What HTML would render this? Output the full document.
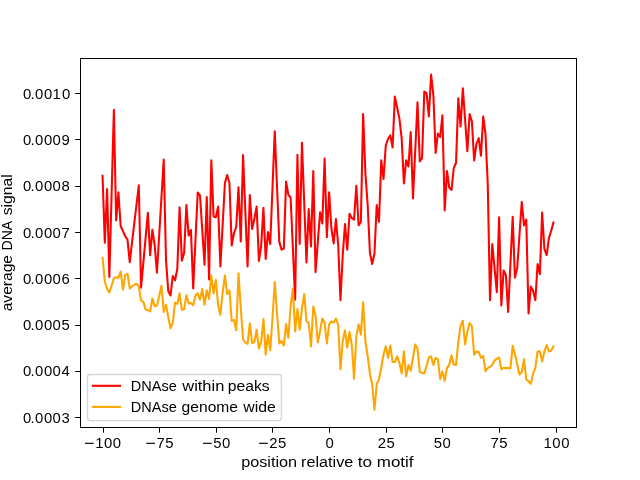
<!DOCTYPE html>
<html><head><meta charset="utf-8"><title>plot</title>
<style>
html,body{margin:0;padding:0;background:#fff;}
body{width:640px;height:480px;overflow:hidden;}
svg{display:block;}
text{font-family:"Liberation Sans",sans-serif;font-size:14.7px;fill:#000;}
</style></head><body>
<svg width="640" height="480" viewBox="0 0 640 480">
<rect x="0" y="0" width="640" height="480" fill="#fff"/>
<g id="all" style="opacity:0.999">
<defs><clipPath id="ax"><rect x="80" y="57.6" width="496" height="369.6"/></clipPath></defs>
<g clip-path="url(#ax)" fill="none" stroke-width="2.08" stroke-linejoin="round" stroke-linecap="square">
<polyline stroke="#ff0000" points="102.55,175.80 104.82,242.70 107.08,189.10 109.35,276.90 111.61,193.40 113.88,109.80 116.15,220.30 118.41,192.30 120.68,226.30 122.94,231.00 125.21,236.40 127.47,239.40 129.74,262.20 132.01,242.50 134.27,223.40 136.54,204.40 138.80,185.40 141.07,287.70 143.34,262.80 145.60,237.80 147.87,212.90 150.13,255.10 152.40,229.80 154.67,245.00 156.93,272.70 159.20,235.00 161.46,197.20 163.73,159.50 166.00,260.00 168.26,291.00 170.53,295.40 172.79,276.00 175.06,280.30 177.32,268.75 179.59,207.30 181.86,260.60 184.12,253.00 186.39,205.00 188.65,235.50 190.92,230.00 193.19,288.40 195.45,240.40 197.72,192.50 199.98,195.50 202.25,230.00 204.52,264.60 206.78,197.10 209.05,279.40 211.31,160.40 213.58,216.50 215.84,217.20 218.11,206.60 220.38,266.50 222.64,225.00 224.91,183.30 227.17,175.00 229.44,183.00 231.71,245.50 233.97,233.00 236.24,227.00 238.50,187.30 240.77,241.50 243.04,155.00 245.30,210.70 247.57,266.50 249.83,195.00 252.10,229.00 254.37,218.75 256.63,206.60 258.90,260.90 261.16,246.00 263.43,207.90 265.69,259.00 267.96,232.00 270.23,244.00 272.49,187.70 274.76,131.30 277.02,186.60 279.29,241.90 281.56,249.60 283.82,248.80 286.09,181.60 288.35,194.80 290.62,197.50 292.89,248.50 295.15,299.60 297.42,154.70 299.68,244.00 301.95,142.90 304.22,202.70 306.48,262.50 308.75,209.10 311.01,246.50 313.28,171.00 315.54,272.10 317.81,242.20 320.08,212.30 322.34,223.40 324.61,158.50 326.87,237.10 329.14,192.30 331.41,228.50 333.67,243.40 335.94,219.10 338.20,245.00 340.47,300.30 342.74,255.00 345.00,224.10 347.27,249.60 349.53,213.80 351.80,218.10 354.06,219.60 356.33,185.80 358.60,225.30 360.86,222.00 363.13,114.10 365.39,173.00 367.66,205.00 369.93,253.00 372.19,264.00 374.46,253.50 376.72,205.00 378.99,221.80 381.26,160.40 383.52,179.00 385.79,145.30 388.05,139.00 390.32,135.40 392.59,147.50 394.85,96.60 397.12,107.50 399.38,118.40 401.65,138.10 403.91,183.40 406.18,160.40 408.45,166.50 410.71,132.00 412.98,198.40 415.24,150.40 417.51,102.30 419.78,161.50 422.04,158.10 424.31,91.60 426.57,93.10 428.84,116.50 431.11,74.50 433.37,95.00 435.64,153.00 437.90,133.50 440.17,136.80 442.44,115.40 444.70,210.50 446.97,171.00 449.23,187.50 451.50,190.00 453.76,168.00 456.03,163.00 458.30,98.30 460.56,126.50 462.83,88.30 465.09,119.80 467.36,151.30 469.63,114.00 471.89,121.30 474.16,160.50 476.42,144.00 478.69,138.10 480.96,155.60 483.22,116.60 485.49,134.00 487.75,184.00 490.02,300.30 492.28,244.10 494.55,268.00 496.82,292.10 499.08,217.30 501.35,305.50 503.61,270.50 505.88,275.00 508.15,312.00 510.41,264.20 512.68,216.90 514.94,277.60 517.21,268.00 519.48,235.00 521.74,202.10 524.01,225.40 526.27,219.70 528.54,313.50 530.81,286.60 533.07,290.80 535.34,300.30 537.60,264.10 539.87,274.10 542.13,212.60 544.40,249.00 546.67,255.10 548.93,238.00 551.20,230.60 553.46,222.50"/>
<polyline stroke="#ffa500" points="102.55,257.90 104.82,281.50 107.08,289.00 109.35,292.50 111.61,285.60 113.88,278.10 116.15,277.25 118.41,277.90 120.68,271.60 122.94,289.60 125.21,275.00 127.47,273.50 129.74,288.40 132.01,286.25 134.27,284.75 136.54,283.75 138.80,286.25 141.07,300.60 143.34,301.90 145.60,309.40 147.87,310.00 150.13,311.50 152.40,298.50 154.67,306.25 156.93,305.60 159.20,296.25 161.46,285.75 163.73,312.00 166.00,304.75 168.26,317.00 170.53,328.40 172.79,323.00 175.06,302.50 177.32,304.00 179.59,293.30 181.86,309.80 184.12,309.20 186.39,295.40 188.65,303.40 190.92,303.00 193.19,305.30 195.45,295.60 197.72,293.30 199.98,299.60 202.25,289.10 204.52,304.60 206.78,290.40 209.05,299.00 211.31,275.40 213.58,293.40 215.84,279.80 218.11,305.00 220.38,315.00 222.64,292.50 224.91,275.40 227.17,294.00 229.44,290.40 231.71,321.00 233.97,319.80 236.24,330.30 238.50,273.30 240.77,308.00 243.04,339.00 245.30,342.50 247.57,344.00 249.83,323.30 252.10,343.00 254.37,342.00 256.63,329.80 258.90,348.40 261.16,342.00 263.43,319.10 265.69,354.60 267.96,334.80 270.23,350.30 272.49,318.00 274.76,282.00 277.02,313.00 279.29,343.40 281.56,341.00 283.82,345.50 286.09,324.10 288.35,337.80 290.62,306.00 292.89,288.50 295.15,331.50 297.42,309.10 299.68,329.60 301.95,309.00 304.22,294.10 306.48,321.25 308.75,323.10 311.01,346.50 313.28,306.60 315.54,315.60 317.81,342.50 320.08,331.00 322.34,318.50 324.61,323.00 326.87,343.40 329.14,324.40 331.41,321.40 333.67,322.50 335.94,318.50 338.20,325.00 340.47,369.30 342.74,341.00 345.00,330.40 347.27,347.50 349.53,332.00 351.80,345.00 354.06,378.80 356.33,336.00 358.60,324.50 360.86,334.60 363.13,302.30 365.39,341.50 367.66,356.00 369.93,373.75 372.19,384.50 374.46,409.60 376.72,383.75 378.99,379.50 381.26,367.50 383.52,354.50 385.79,346.40 388.05,357.80 390.32,345.40 392.59,361.90 394.85,362.00 397.12,356.40 399.38,362.50 401.65,373.40 403.91,351.30 406.18,376.50 408.45,365.00 410.71,370.90 412.98,357.50 415.24,344.50 417.51,348.75 419.78,371.90 422.04,373.00 424.31,373.40 426.57,366.00 428.84,357.50 431.11,356.40 433.37,365.00 435.64,357.90 437.90,359.40 440.17,379.00 442.44,371.60 444.70,380.90 446.97,368.00 449.23,365.00 451.50,355.40 453.76,364.50 456.03,365.00 458.30,342.00 460.56,325.60 462.83,320.80 465.09,344.40 467.36,332.00 469.63,323.10 471.89,326.25 474.16,354.60 476.42,351.30 478.69,351.90 480.96,357.80 483.22,356.20 485.49,371.20 487.75,368.10 490.02,366.60 492.28,365.00 494.55,360.60 496.82,358.75 499.08,357.50 501.35,369.40 503.61,367.75 505.88,368.10 508.15,367.75 510.41,368.40 512.68,345.90 514.94,354.00 517.21,364.50 519.48,374.60 521.74,372.00 524.01,359.30 526.27,379.40 528.54,381.25 530.81,383.80 533.07,373.75 535.34,367.50 537.60,351.50 539.87,351.30 542.13,361.50 544.40,351.25 546.67,345.00 548.93,351.50 551.20,350.60 553.46,346.50"/>
</g>

<g fill="#000" shape-rendering="crispEdges">
<rect x="80" y="58" width="1" height="370"/>
<rect x="576" y="58" width="1" height="370"/>
<rect x="80" y="58" width="497" height="1"/>
<rect x="80" y="427" width="497" height="1"/>
</g>
<g fill="#000">
<rect x="103" y="428" width="1" height="4.7"/>
<rect x="159" y="428" width="1" height="4.7"/>
<rect x="216" y="428" width="1" height="4.7"/>
<rect x="272" y="428" width="1" height="4.7"/>
<rect x="329" y="428" width="1" height="4.7"/>
<rect x="386" y="428" width="1" height="4.7"/>
<rect x="442" y="428" width="1" height="4.7"/>
<rect x="499" y="428" width="1" height="4.7"/>
<rect x="556" y="428" width="1" height="4.7"/>
<rect x="75.2" y="93" width="4.8" height="1"/>
<rect x="75.2" y="139" width="4.8" height="1"/>
<rect x="75.2" y="186" width="4.8" height="1"/>
<rect x="75.2" y="232" width="4.8" height="1"/>
<rect x="75.2" y="278" width="4.8" height="1"/>
<rect x="75.2" y="325" width="4.8" height="1"/>
<rect x="75.2" y="371" width="4.8" height="1"/>
<rect x="75.2" y="417" width="4.8" height="1"/>
</g>
<g>
<rect x="85.00" y="442.75" width="8.7" height="1.15" fill="#000"/>
<text transform="translate(95.19,447.7) scale(1.013,1)" style="letter-spacing:0.53px">100</text>
<rect x="146.25" y="442.75" width="8.7" height="1.15" fill="#000"/>
<text transform="translate(156.44,447.7) scale(1.013,1)" style="letter-spacing:0.53px">75</text>
<rect x="203.00" y="442.75" width="8.7" height="1.15" fill="#000"/>
<text transform="translate(213.19,447.7) scale(1.013,1)" style="letter-spacing:0.53px">50</text>
<rect x="259.10" y="442.75" width="8.7" height="1.15" fill="#000"/>
<text transform="translate(269.29,447.7) scale(1.013,1)" style="letter-spacing:0.53px">25</text>
<text transform="translate(325.55,447.7) scale(1.013,1)" style="letter-spacing:0.53px">0</text>
<text transform="translate(377.70,447.7) scale(1.013,1)" style="letter-spacing:0.53px">25</text>
<text transform="translate(433.80,447.7) scale(1.013,1)" style="letter-spacing:0.53px">50</text>
<text transform="translate(490.55,447.7) scale(1.013,1)" style="letter-spacing:0.53px">75</text>
<text transform="translate(543.55,447.7) scale(1.013,1)" style="letter-spacing:0.53px">100</text>
<text transform="translate(0,98.9) scale(1.013,1)" x="22.61 30.06 34.55 43.34 51.92 61.20">0.0010</text>
<text transform="translate(0,144.9) scale(1.013,1)" x="22.61 30.06 34.55 43.34 51.83 60.71">0.0009</text>
<text transform="translate(0,190.9) scale(1.013,1)" x="22.61 30.06 34.55 43.34 51.83 60.71">0.0008</text>
<text transform="translate(0,237.9) scale(1.013,1)" x="22.61 30.06 34.55 43.34 51.83 60.71">0.0007</text>
<text transform="translate(0,283.9) scale(1.013,1)" x="22.61 30.06 34.55 43.34 51.83 60.71">0.0006</text>
<text transform="translate(0,329.9) scale(1.013,1)" x="22.61 30.06 34.55 43.34 51.83 60.71">0.0005</text>
<text transform="translate(0,375.9) scale(1.013,1)" x="22.61 30.06 34.55 43.34 51.83 60.71">0.0004</text>
<text transform="translate(0,422.9) scale(1.013,1)" x="22.61 30.06 34.55 43.34 51.83 60.71">0.0003</text>
</g>
<rect x="87.5" y="374.5" width="193.9" height="46.1" rx="2.8" ry="2.8" fill="#fff" fill-opacity="0.8" stroke="#ccc" stroke-opacity="0.8" stroke-width="1.39"/>
<line x1="92.9" y1="385.8" x2="120.0" y2="385.8" stroke="#ff0000" stroke-width="2.08" stroke-linecap="square"/>
<line x1="92.9" y1="406.9" x2="120.0" y2="406.9" stroke="#ffa500" stroke-width="2.08" stroke-linecap="square"/>
<text transform="translate(241.20,466.5) scale(1.1036,1)">position</text>
<text transform="translate(301.10,466.5) scale(1.1027,1)">relative</text>
<text transform="translate(357.81,466.5) scale(1.1692,1)">to</text>
<text transform="translate(376.82,466.5) scale(1.1540,1)">motif</text>
<text transform="translate(130.76,390.8) scale(0.9882,1)">DNAse</text>
<text transform="translate(182.25,390.8) scale(1.1195,1)">within</text>
<text transform="translate(227.68,390.8) scale(1.0698,1)">peaks</text>
<text transform="translate(130.76,411.8) scale(0.9882,1)">DNAse</text>
<text transform="translate(181.59,411.8) scale(1.0628,1)">genome</text>
<text transform="translate(243.25,411.8) scale(1.0763,1)">wide</text>
<text transform="translate(12.0,311.36) rotate(-90) scale(1.0628,1)">average</text>
<text transform="translate(12.0,250.50) rotate(-90) scale(0.9580,1)">DNA</text>
<text transform="translate(12.0,215.23) rotate(-90) scale(1.0685,1)">signal</text>
</g></svg></body></html>
